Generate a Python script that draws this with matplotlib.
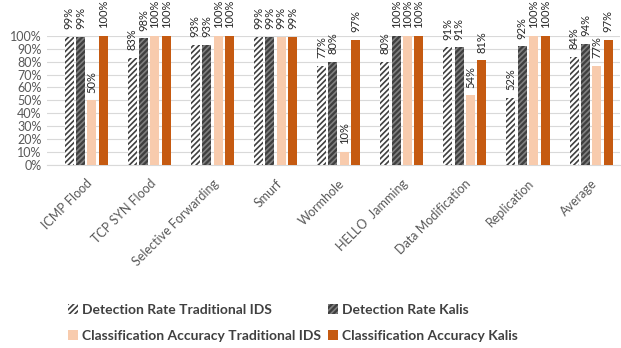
import matplotlib
matplotlib.use("Agg")
import matplotlib.pyplot as plt
import numpy as np
from matplotlib.patches import Patch

categories = ["ICMP Flood", "TCP SYN Flood", "Selective Forwarding", "Smurf", "Wormhole",
              "HELLO  Jamming", "Data Modification", "Replication", "Average"]
det_trad = [99, 83, 93, 99, 77, 80, 91, 52, 84]
det_kalis = [99, 98, 93, 99, 80, 100, 91, 92, 94]
cls_trad = [50, 100, 100, 99, 10, 100, 54, 100, 77]
cls_kalis = [100, 100, 100, 99, 97, 100, 81, 100, 97]

series_names = ["Detection Rate Traditional IDS", "Detection Rate Kalis",
                "Classification Accuracy Traditional IDS", "Classification Accuracy Kalis"]
yticks = list(range(0, 101, 10))

plt.rcParams['font.family'] = ['Lato', 'DejaVu Sans']
plt.rcParams['hatch.linewidth'] = 1.2
fig = plt.figure(figsize=(6.21, 3.48), dpi=100)
ax = fig.add_axes([0.0757, 0.526, 0.923, 0.371])

x = np.arange(len(categories))
pitch = 0.18
width = 0.143
styles = [
    dict(facecolor="white", edgecolor="#404040", hatch="//////"),
    dict(facecolor="#3f3f3f", edgecolor="#808080", hatch="//////"),
    dict(facecolor="#f8cbad", edgecolor="#f8cbad", hatch=None),
    dict(facecolor="#c55a11", edgecolor="#c55a11", hatch=None),
]
data = [det_trad, det_kalis, cls_trad, cls_kalis]
for i, (vals, st) in enumerate(zip(data, styles)):
    pos = x + (i - 1.5) * pitch
    bars = ax.bar(pos, vals, width, facecolor=st["facecolor"], edgecolor=st["edgecolor"],
                  hatch=st["hatch"], linewidth=0, zorder=3)
    for b, v in zip(bars, vals):
        ax.annotate(f"{v}%", (b.get_x() + b.get_width() / 2, v), xytext=(0, 5.5),
                    textcoords="offset points", rotation=90, ha="center", va="bottom",
                    fontsize=8, color="#262626", annotation_clip=False)

ax.set_xlim(-0.62, 8.46)
ax.set_ylim(0, 100)
ax.set_yticks(yticks)
ax.set_yticklabels([f"{t}%" for t in yticks], fontsize=9, color="#595959")
ax.set_xticks(x)
ax.set_xticklabels(categories, rotation=45, ha="right", rotation_mode="anchor",
                   fontsize=9, color="#595959")
ax.tick_params(axis="both", length=0, pad=4)
ax.tick_params(axis="x", pad=9)
ax.grid(axis="y", color="#d9d9d9", linewidth=0.8, zorder=0)
for s in ["top", "right", "left"]:
    ax.spines[s].set_visible(False)
ax.spines["bottom"].set_color("#d9d9d9")

handles = [Patch(facecolor=st["facecolor"], edgecolor=st["edgecolor"], hatch=st["hatch"],
                 linewidth=0) for st in styles]
order = [0, 2, 1, 3]
fig.legend([handles[i] for i in order], [series_names[i] for i in order],
           loc="center left", bbox_to_anchor=(0.09, 0.072), ncol=2, frameon=False,
           prop=dict(size=10, weight="bold"), labelcolor="#404040",
           handlelength=0.7, handleheight=0.7, handletextpad=0.3, columnspacing=0.5,
           labelspacing=1.0)

fig.savefig("out.png", dpi=100)
